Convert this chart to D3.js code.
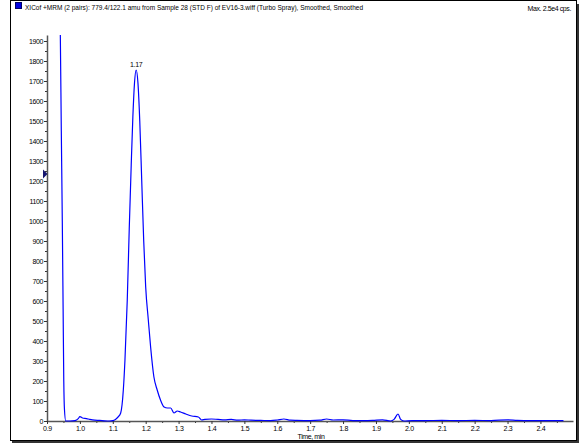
<!DOCTYPE html>
<html>
<head>
<meta charset="utf-8">
<script src="https://cdn.jsdelivr.net/npm/d3@7"></script>
<style>
body { margin: 0; background: #fff; }
svg text { font-family: "Liberation Sans", Arial, sans-serif; fill: #000; }
</style>
</head>
<body>
<div></div>
<script>
// retention time (min) and intensity (cps)
var times = [0.936, 0.9405, 0.9435, 0.9465, 0.949, 0.951, 0.953, 0.957, 0.97, 0.985, 0.995, 1.0, 1.008, 1.02, 1.03, 1.045, 1.06, 1.075, 1.09, 1.10, 1.108, 1.116, 1.124, 1.132, 1.137, 1.144, 1.150, 1.156, 1.161, 1.166, 1.171, 1.1765, 1.182, 1.188, 1.194, 1.20, 1.208, 1.215, 1.225, 1.235, 1.245, 1.256, 1.266, 1.276, 1.286, 1.296, 1.306, 1.322, 1.34, 1.36, 1.37, 1.38, 1.40, 1.42, 1.44, 1.46, 1.48, 1.50, 1.52, 1.55, 1.58, 1.60, 1.62, 1.64, 1.66, 1.70, 1.73, 1.75, 1.77, 1.80, 1.83, 1.86, 1.89, 1.92, 1.945, 1.955, 1.967, 1.975, 1.985, 2.01, 2.05, 2.10, 2.15, 2.20, 2.25, 2.30, 2.33, 2.37, 2.42, 2.47];
var intensity = [2400, 1930, 1450, 1000, 560, 200, 60, 0, 0, 2, 12, 22, 15, 12, 8, 4, 3, 1, 0, 2, 8, 20, 40, 155, 305, 605, 960, 1280, 1520, 1690, 1755, 1690, 1500, 1200, 900, 670, 505, 370, 220, 155, 105, 70, 65, 65, 40, 50, 45, 35, 25, 20, 5, 8, 10, 8, 6, 8, 4, 6, 4, 3, 2, 5, 10, 4, 3, 2, 4, 10, 5, 6, 2, 2, 3, 6, 0, 8, 35, 8, 0, 2, 2, 3, 2, 3, 2, 6, 3, 2, 2, 2];
var yTicks = [0, 100, 200, 300, 400, 500, 600, 700, 800, 900, 1000, 1100, 1200, 1300, 1400, 1500, 1600, 1700, 1800, 1900];
var xTicks = [0.9, 1.0, 1.1, 1.2, 1.3, 1.4, 1.5, 1.6, 1.7, 1.8, 1.9, 2.0, 2.1, 2.2, 2.3, 2.4];
var titleText = "XICof +MRM (2 pairs): 779.4/122.1 amu from Sample 28 (STD F) of EV16-3.wiff (Turbo Spray), Smoothed, Smoothed";
var maxText = "Max. 2.5e4 cps.";

var w = 580;
var h = 444;

var svg = d3.select("div")
            .append("svg")
            .attr("width", w)
            .attr("height", h);

var x = d3.scaleLinear().domain([0.9, 2.499]).range([47, 573]);
var y = d3.scaleLinear().domain([0, 1930]).range([421, 35]);

// outer frame with shadow edges
svg.append("rect")
    .attr("x", 10.5).attr("y", 0.5)
    .attr("width", 566).attr("height", 440)
    .attr("fill", "none").attr("stroke", "#000");
svg.append("line").attr("x1", 578).attr("x2", 578).attr("y1", 4).attr("y2", 443)
    .attr("stroke", "#333").attr("stroke-width", 2);
svg.append("line").attr("x1", 12).attr("x2", 579).attr("y1", 442).attr("y2", 442)
    .attr("stroke", "#333").attr("stroke-width", 2);

// title
svg.append("rect")
    .attr("x", 15.5).attr("y", 2.5).attr("width", 6).attr("height", 6)
    .attr("fill", "#0000e0").attr("stroke", "#000066");
svg.append("text")
    .attr("x", 25).attr("y", 10)
    .attr("font-size", 7.5)
    .attr("textLength", 338).attr("lengthAdjust", "spacingAndGlyphs")
    .text(titleText);
svg.append("text")
    .attr("x", 571).attr("y", 11)
    .attr("font-size", 7)
    .attr("letter-spacing", -0.4)
    .attr("text-anchor", "end")
    .text(maxText);

// minor ticks
var yMinor = d3.range(50, 1930, 100);
var xMinor = d3.range(0.95, 2.5, 0.1);

svg.append("g")
    .attr("transform", "translate(47,0)")
    .call(d3.axisLeft(y).tickValues(yMinor).tickSize(2).tickFormat(""))
    .call(function(g) { g.select(".domain").remove(); g.selectAll("line").attr("stroke", "#333"); });
svg.append("g")
    .attr("transform", "translate(0,421)")
    .call(d3.axisBottom(x).tickValues(xMinor).tickSize(2).tickFormat(""))
    .call(function(g) { g.select(".domain").remove(); g.selectAll("line").attr("stroke", "#333"); });

// y axis
var yAxis = svg.append("g")
    .attr("transform", "translate(47,0)")
    .call(d3.axisLeft(y).tickValues(yTicks).tickSize(3).tickSizeOuter(0).tickPadding(1).tickFormat(d3.format("d")));
yAxis.select(".domain").attr("stroke", "#555").attr("stroke-width", 1.5);
yAxis.selectAll("line").attr("stroke", "#333");
yAxis.selectAll("text").attr("font-size", 7).attr("letter-spacing", -0.4)
    .attr("font-family", "'Liberation Sans', Arial, sans-serif");

// x axis
var xAxis = svg.append("g")
    .attr("transform", "translate(0,421)")
    .call(d3.axisBottom(x).tickValues(xTicks).tickSize(3).tickSizeOuter(0).tickPadding(2).tickFormat(d3.format(".1f")));
xAxis.select(".domain").attr("stroke", "#555").attr("stroke-width", 1.5);
xAxis.selectAll("line").attr("stroke", "#333");
xAxis.selectAll("text").attr("font-size", 7).attr("letter-spacing", -0.3)
    .attr("font-family", "'Liberation Sans', Arial, sans-serif");

svg.append("text")
    .attr("x", 311).attr("y", 439)
    .attr("font-size", 7).attr("letter-spacing", -0.4)
    .attr("text-anchor", "middle")
    .text("Time, min");

// marker on y axis
svg.append("path")
    .attr("d", "M43,169.5 L47.5,174 L43,178.5 Z")
    .attr("fill", "#14146e");

// trace
svg.append("clipPath").attr("id", "plot")
    .append("rect").attr("x", 47).attr("y", 35).attr("width", 527).attr("height", 387);

var pts = times.map(function(t, i) { return [t, intensity[i]]; });
var line = d3.line()
    .x(function(d) { return x(d[0]); })
    .y(function(d) { return y(d[1]); })
    .curve(d3.curveMonotoneX);

svg.append("path")
    .datum(pts)
    .attr("clip-path", "url(#plot)")
    .attr("d", line)
    .attr("fill", "none")
    .attr("stroke", "#0000ff")
    .attr("stroke-width", 1.2);

// peak label
svg.append("text")
    .attr("x", x(1.171)).attr("y", y(1755) - 3)
    .attr("font-size", 7).attr("letter-spacing", -0.3)
    .attr("text-anchor", "middle")
    .text("1.17");
</script>
</body>
</html>
